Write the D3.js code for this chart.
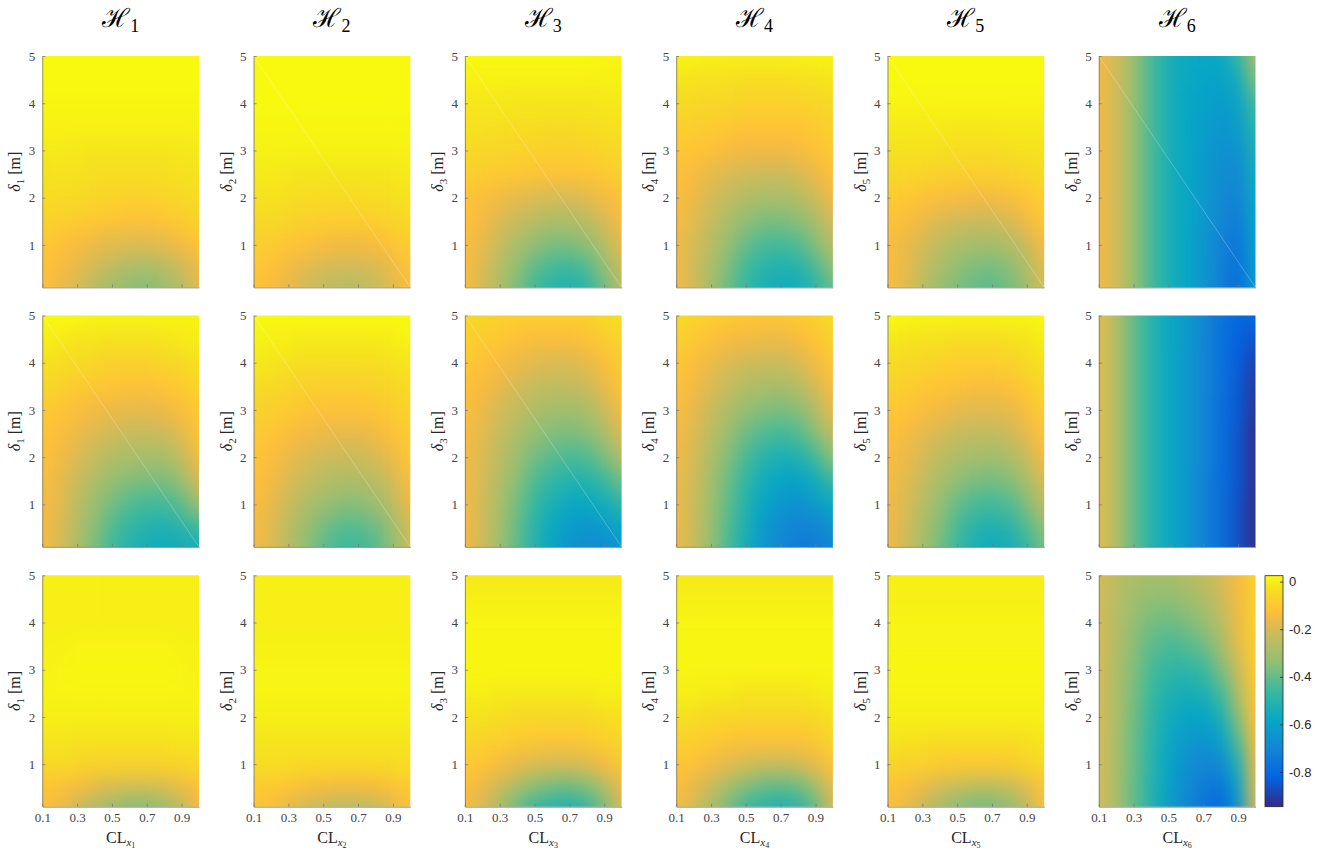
<!DOCTYPE html>
<html>
<head>
<meta charset="utf-8">
<script src="https://cdn.jsdelivr.net/npm/d3@7"></script>
<style>
  body { margin: 0; background: #fff; }
  .tick text { font-family: "Liberation Serif", serif; font-size: 13px; fill: #444; }
  .cbar .tick text { font-family: "Liberation Sans", Arial, sans-serif; font-size: 13px; fill: #262626; }
</style>
</head>
<body>
<div id="chart"></div>
<script>
// sample grid: CL across, delta down (top row = delta 5)
const clValues = [0.1, 0.2, 0.3, 0.4, 0.5, 0.6, 0.7, 0.8, 0.9, 1.0];
const deltaValues = [5, 4.5, 4, 3.5, 3, 2.5, 2, 1.5, 1, 0.5, 0.1];
const xTicks = [0.1, 0.3, 0.5, 0.7, 0.9];
const yTicks = [1, 2, 3, 4, 5];
const cbarTicks = [0, -0.2, -0.4, -0.6, -0.8];
const cRange = [-0.946, 0.025];
const hNames = ["1", "2", "3", "4", "5", "6"];

// ---- row 1 ----
const r1_H1 = [
  [0.02, 0.02, 0.02, 0.02, 0.02, 0.02, 0.02, 0.02, 0.02, 0.02],
  [0.02, 0.02, 0.02, 0.02, 0.02, 0.02, 0.02, 0.02, 0.02, 0.02],
  [0.015, 0.015, 0.015, 0.015, 0.015, 0.015, 0.015, 0.015, 0.015, 0.015],
  [0.005, 0.005, 0.005, 0.005, 0.005, 0.005, 0.005, 0.005, 0.005, 0.005],
  [-0.01, -0.01, -0.015, -0.02, -0.02, -0.02, -0.02, -0.02, -0.015, -0.01],
  [-0.025, -0.03, -0.03, -0.035, -0.04, -0.04, -0.04, -0.035, -0.03, -0.025],
  [-0.04, -0.045, -0.05, -0.06, -0.065, -0.07, -0.07, -0.065, -0.055, -0.04],
  [-0.07, -0.08, -0.09, -0.1, -0.11, -0.12, -0.12, -0.11, -0.09, -0.07],
  [-0.1, -0.12, -0.14, -0.16, -0.18, -0.19, -0.19, -0.18, -0.15, -0.11],
  [-0.12, -0.14, -0.17, -0.21, -0.25, -0.28, -0.29, -0.27, -0.22, -0.16],
  [-0.12, -0.16, -0.2, -0.26, -0.31, -0.35, -0.36, -0.33, -0.26, -0.18]
];
const r1_H2 = [
  [0.02, 0.02, 0.02, 0.02, 0.02, 0.02, 0.02, 0.02, 0.02, 0.02],
  [0.02, 0.02, 0.02, 0.02, 0.02, 0.02, 0.02, 0.02, 0.02, 0.02],
  [0.02, 0.02, 0.02, 0.02, 0.02, 0.02, 0.02, 0.02, 0.02, 0.02],
  [0.015, 0.015, 0.015, 0.015, 0.015, 0.015, 0.015, 0.015, 0.015, 0.015],
  [0.005, 0.005, 0.005, 0.005, 0.005, 0.005, 0.005, 0.005, 0.005, 0.005],
  [-0.01, -0.01, -0.015, -0.02, -0.02, -0.02, -0.02, -0.02, -0.015, -0.01],
  [-0.025, -0.03, -0.035, -0.04, -0.045, -0.045, -0.045, -0.04, -0.035, -0.025],
  [-0.05, -0.055, -0.065, -0.075, -0.08, -0.085, -0.085, -0.08, -0.065, -0.05],
  [-0.08, -0.09, -0.11, -0.12, -0.14, -0.15, -0.15, -0.14, -0.11, -0.08],
  [-0.1, -0.12, -0.15, -0.18, -0.2, -0.21, -0.21, -0.2, -0.16, -0.11],
  [-0.11, -0.14, -0.17, -0.21, -0.24, -0.26, -0.26, -0.23, -0.18, -0.13]
];
const r1_H3 = [
  [0.02, 0.02, 0.02, 0.02, 0.02, 0.02, 0.02, 0.02, 0.01, 0.01],
  [0.005, 0.005, 0.005, 0.005, 0.005, 0.005, 0.005, 0.005, 0.005, 0.005],
  [-0.015, -0.015, -0.015, -0.02, -0.02, -0.02, -0.02, -0.02, -0.015, -0.015],
  [-0.03, -0.03, -0.035, -0.04, -0.04, -0.045, -0.045, -0.04, -0.035, -0.03],
  [-0.05, -0.055, -0.06, -0.065, -0.07, -0.075, -0.075, -0.07, -0.06, -0.05],
  [-0.08, -0.085, -0.095, -0.1, -0.11, -0.115, -0.115, -0.11, -0.095, -0.075],
  [-0.11, -0.13, -0.15, -0.17, -0.19, -0.2, -0.2, -0.18, -0.15, -0.12],
  [-0.12, -0.15, -0.19, -0.23, -0.26, -0.28, -0.28, -0.26, -0.2, -0.14],
  [-0.13, -0.17, -0.23, -0.29, -0.34, -0.37, -0.37, -0.34, -0.27, -0.17],
  [-0.14, -0.19, -0.26, -0.34, -0.41, -0.45, -0.46, -0.43, -0.34, -0.22],
  [-0.14, -0.2, -0.28, -0.37, -0.45, -0.5, -0.52, -0.49, -0.39, -0.25]
];
const r1_H4 = [
  [0.01, 0.01, 0.0, 0.0, 0.0, 0.0, 0.0, 0.0, 0.01, 0.01],
  [-0.02, -0.03, -0.03, -0.03, -0.04, -0.04, -0.04, -0.03, -0.03, -0.02],
  [-0.05, -0.05, -0.06, -0.06, -0.07, -0.07, -0.07, -0.07, -0.06, -0.05],
  [-0.08, -0.08, -0.09, -0.1, -0.11, -0.11, -0.11, -0.11, -0.09, -0.07],
  [-0.1, -0.11, -0.12, -0.14, -0.15, -0.15, -0.15, -0.14, -0.12, -0.09],
  [-0.12, -0.14, -0.17, -0.19, -0.21, -0.22, -0.22, -0.2, -0.16, -0.12],
  [-0.13, -0.16, -0.2, -0.24, -0.27, -0.29, -0.29, -0.27, -0.22, -0.15],
  [-0.14, -0.18, -0.23, -0.29, -0.34, -0.37, -0.37, -0.35, -0.29, -0.2],
  [-0.15, -0.2, -0.26, -0.33, -0.4, -0.44, -0.45, -0.43, -0.36, -0.26],
  [-0.15, -0.21, -0.28, -0.37, -0.45, -0.5, -0.52, -0.51, -0.44, -0.33],
  [-0.15, -0.21, -0.3, -0.39, -0.47, -0.53, -0.55, -0.55, -0.49, -0.4]
];
const r1_H5 = [
  [0.02, 0.02, 0.02, 0.02, 0.02, 0.02, 0.02, 0.02, 0.02, 0.02],
  [0.02, 0.02, 0.02, 0.02, 0.02, 0.02, 0.02, 0.02, 0.02, 0.02],
  [0.01, 0.01, 0.01, 0.01, 0.01, 0.01, 0.01, 0.01, 0.01, 0.01],
  [-0.01, -0.01, -0.01, -0.01, -0.015, -0.015, -0.015, -0.01, -0.01, -0.01],
  [-0.025, -0.03, -0.03, -0.035, -0.04, -0.04, -0.04, -0.035, -0.03, -0.025],
  [-0.05, -0.055, -0.06, -0.07, -0.075, -0.08, -0.08, -0.07, -0.06, -0.045],
  [-0.09, -0.1, -0.12, -0.13, -0.14, -0.15, -0.15, -0.13, -0.11, -0.08],
  [-0.11, -0.13, -0.16, -0.19, -0.21, -0.22, -0.22, -0.2, -0.15, -0.1],
  [-0.13, -0.16, -0.2, -0.25, -0.28, -0.3, -0.3, -0.28, -0.22, -0.14],
  [-0.13, -0.17, -0.23, -0.29, -0.34, -0.37, -0.38, -0.35, -0.28, -0.18],
  [-0.13, -0.18, -0.25, -0.32, -0.37, -0.4, -0.41, -0.38, -0.31, -0.2]
];
const r1_H6 = [
  [-0.15, -0.21, -0.32, -0.44, -0.53, -0.57, -0.58, -0.57, -0.48, -0.28],
  [-0.15, -0.21, -0.32, -0.44, -0.53, -0.57, -0.59, -0.6, -0.55, -0.36],
  [-0.15, -0.21, -0.32, -0.44, -0.53, -0.58, -0.6, -0.62, -0.6, -0.44],
  [-0.15, -0.21, -0.32, -0.44, -0.53, -0.58, -0.61, -0.64, -0.63, -0.49],
  [-0.15, -0.21, -0.32, -0.44, -0.53, -0.58, -0.62, -0.66, -0.66, -0.52],
  [-0.15, -0.21, -0.32, -0.44, -0.53, -0.58, -0.62, -0.67, -0.69, -0.55],
  [-0.15, -0.21, -0.32, -0.44, -0.53, -0.58, -0.63, -0.69, -0.71, -0.57],
  [-0.15, -0.21, -0.32, -0.44, -0.53, -0.58, -0.63, -0.7, -0.74, -0.58],
  [-0.15, -0.21, -0.32, -0.44, -0.53, -0.58, -0.64, -0.71, -0.76, -0.6],
  [-0.15, -0.21, -0.32, -0.44, -0.53, -0.58, -0.64, -0.72, -0.78, -0.61],
  [-0.15, -0.21, -0.32, -0.44, -0.53, -0.58, -0.64, -0.72, -0.79, -0.62]
];

// ---- row 2 ----
const r2_H1 = [
  [0.02, 0.02, 0.02, 0.01, 0.01, 0.01, 0.01, 0.01, 0.01, 0.01],
  [0.0, -0.01, -0.02, -0.02, -0.03, -0.03, -0.03, -0.02, -0.01, 0.0],
  [-0.03, -0.04, -0.05, -0.06, -0.07, -0.07, -0.07, -0.06, -0.05, -0.03],
  [-0.06, -0.07, -0.09, -0.1, -0.11, -0.12, -0.12, -0.11, -0.09, -0.06],
  [-0.09, -0.11, -0.13, -0.15, -0.16, -0.17, -0.17, -0.16, -0.13, -0.09],
  [-0.11, -0.13, -0.16, -0.19, -0.21, -0.23, -0.23, -0.22, -0.18, -0.11],
  [-0.12, -0.15, -0.19, -0.23, -0.27, -0.29, -0.3, -0.29, -0.24, -0.14],
  [-0.13, -0.17, -0.22, -0.28, -0.33, -0.36, -0.37, -0.37, -0.32, -0.2],
  [-0.14, -0.18, -0.25, -0.32, -0.38, -0.43, -0.45, -0.45, -0.41, -0.3],
  [-0.14, -0.19, -0.27, -0.35, -0.43, -0.48, -0.51, -0.52, -0.5, -0.45],
  [-0.14, -0.2, -0.28, -0.37, -0.45, -0.51, -0.54, -0.56, -0.55, -0.53]
];
const r2_H2 = [
  [0.02, 0.02, 0.02, 0.02, 0.02, 0.02, 0.02, 0.02, 0.02, 0.02],
  [0.01, 0.0, 0.0, -0.01, -0.01, -0.01, -0.01, -0.01, 0.0, 0.01],
  [-0.01, -0.02, -0.03, -0.04, -0.04, -0.04, -0.04, -0.04, -0.03, -0.02],
  [-0.04, -0.05, -0.06, -0.07, -0.08, -0.08, -0.08, -0.07, -0.06, -0.04],
  [-0.07, -0.08, -0.09, -0.11, -0.12, -0.12, -0.12, -0.11, -0.09, -0.06],
  [-0.09, -0.11, -0.13, -0.15, -0.16, -0.17, -0.17, -0.15, -0.12, -0.08],
  [-0.11, -0.13, -0.16, -0.19, -0.21, -0.22, -0.22, -0.2, -0.16, -0.1],
  [-0.12, -0.15, -0.19, -0.23, -0.26, -0.28, -0.28, -0.26, -0.2, -0.13],
  [-0.13, -0.17, -0.22, -0.28, -0.32, -0.35, -0.35, -0.32, -0.25, -0.16],
  [-0.14, -0.18, -0.25, -0.32, -0.38, -0.42, -0.42, -0.39, -0.31, -0.2],
  [-0.14, -0.19, -0.26, -0.34, -0.41, -0.45, -0.46, -0.42, -0.34, -0.22]
];
const r2_H3 = [
  [-0.05, -0.06, -0.07, -0.08, -0.08, -0.08, -0.08, -0.07, -0.05, -0.03],
  [-0.08, -0.09, -0.1, -0.12, -0.13, -0.13, -0.13, -0.12, -0.09, -0.06],
  [-0.1, -0.12, -0.14, -0.16, -0.18, -0.19, -0.19, -0.17, -0.13, -0.09],
  [-0.12, -0.14, -0.17, -0.2, -0.23, -0.24, -0.24, -0.22, -0.17, -0.11],
  [-0.13, -0.16, -0.2, -0.24, -0.28, -0.3, -0.31, -0.29, -0.22, -0.14],
  [-0.14, -0.18, -0.23, -0.28, -0.33, -0.36, -0.37, -0.35, -0.29, -0.19],
  [-0.15, -0.19, -0.25, -0.32, -0.38, -0.42, -0.44, -0.43, -0.37, -0.27],
  [-0.15, -0.2, -0.27, -0.35, -0.43, -0.48, -0.51, -0.51, -0.46, -0.38],
  [-0.15, -0.21, -0.29, -0.38, -0.47, -0.53, -0.57, -0.58, -0.55, -0.49],
  [-0.15, -0.21, -0.3, -0.4, -0.5, -0.57, -0.62, -0.64, -0.63, -0.58],
  [-0.15, -0.22, -0.31, -0.41, -0.51, -0.59, -0.65, -0.68, -0.68, -0.63]
];
const r2_H4 = [
  [-0.04, -0.06, -0.08, -0.09, -0.1, -0.1, -0.1, -0.09, -0.07, -0.04],
  [-0.08, -0.1, -0.12, -0.14, -0.15, -0.16, -0.16, -0.14, -0.11, -0.07],
  [-0.1, -0.13, -0.16, -0.19, -0.21, -0.22, -0.22, -0.2, -0.15, -0.1],
  [-0.12, -0.15, -0.19, -0.23, -0.27, -0.29, -0.29, -0.27, -0.2, -0.13],
  [-0.13, -0.17, -0.22, -0.28, -0.33, -0.36, -0.37, -0.35, -0.27, -0.17],
  [-0.14, -0.19, -0.25, -0.32, -0.39, -0.43, -0.45, -0.43, -0.35, -0.24],
  [-0.15, -0.2, -0.28, -0.36, -0.44, -0.5, -0.53, -0.52, -0.45, -0.34],
  [-0.16, -0.21, -0.3, -0.39, -0.48, -0.55, -0.59, -0.6, -0.55, -0.46],
  [-0.16, -0.22, -0.31, -0.41, -0.51, -0.59, -0.64, -0.66, -0.63, -0.57],
  [-0.16, -0.22, -0.32, -0.43, -0.53, -0.62, -0.68, -0.71, -0.7, -0.66],
  [-0.16, -0.23, -0.33, -0.44, -0.55, -0.64, -0.7, -0.74, -0.74, -0.7]
];
const r2_H5 = [
  [0.02, 0.02, 0.01, 0.01, 0.01, 0.01, 0.01, 0.01, 0.01, 0.02],
  [-0.01, -0.02, -0.03, -0.03, -0.04, -0.04, -0.04, -0.03, -0.02, 0.0],
  [-0.04, -0.05, -0.06, -0.07, -0.08, -0.08, -0.08, -0.07, -0.05, -0.03],
  [-0.07, -0.08, -0.1, -0.11, -0.12, -0.13, -0.13, -0.12, -0.09, -0.05],
  [-0.1, -0.11, -0.13, -0.15, -0.17, -0.18, -0.18, -0.17, -0.13, -0.08],
  [-0.12, -0.14, -0.17, -0.2, -0.23, -0.24, -0.24, -0.22, -0.17, -0.11],
  [-0.13, -0.16, -0.2, -0.25, -0.28, -0.3, -0.31, -0.29, -0.23, -0.14],
  [-0.14, -0.18, -0.23, -0.29, -0.34, -0.37, -0.38, -0.36, -0.29, -0.19],
  [-0.15, -0.19, -0.26, -0.33, -0.4, -0.44, -0.45, -0.43, -0.36, -0.25],
  [-0.15, -0.2, -0.28, -0.36, -0.44, -0.5, -0.52, -0.5, -0.43, -0.33],
  [-0.15, -0.21, -0.29, -0.38, -0.46, -0.53, -0.56, -0.54, -0.47, -0.38]
];
const r2_H6 = [
  [-0.18, -0.27, -0.4, -0.5, -0.57, -0.62, -0.69, -0.76, -0.81, -0.8],
  [-0.18, -0.27, -0.4, -0.5, -0.57, -0.62, -0.7, -0.77, -0.82, -0.86],
  [-0.18, -0.27, -0.4, -0.5, -0.57, -0.63, -0.7, -0.77, -0.83, -0.9],
  [-0.18, -0.27, -0.4, -0.5, -0.57, -0.63, -0.7, -0.77, -0.84, -0.92],
  [-0.18, -0.27, -0.4, -0.5, -0.57, -0.63, -0.7, -0.78, -0.84, -0.93],
  [-0.18, -0.27, -0.4, -0.5, -0.57, -0.63, -0.7, -0.78, -0.85, -0.94],
  [-0.18, -0.27, -0.4, -0.5, -0.57, -0.63, -0.7, -0.78, -0.85, -0.94],
  [-0.18, -0.27, -0.4, -0.5, -0.57, -0.63, -0.71, -0.78, -0.85, -0.94],
  [-0.18, -0.27, -0.4, -0.5, -0.57, -0.63, -0.71, -0.78, -0.86, -0.94],
  [-0.18, -0.27, -0.4, -0.5, -0.57, -0.63, -0.71, -0.78, -0.86, -0.94],
  [-0.18, -0.27, -0.4, -0.5, -0.57, -0.63, -0.71, -0.78, -0.86, -0.94]
];

// ---- row 3 ----
const r3_H1 = [
  [0.0, 0.0, 0.0, 0.0, 0.0, 0.0, 0.0, 0.0, 0.0, 0.0],
  [0.0, 0.0, 0.0, 0.0, 0.0, 0.0, 0.0, 0.0, 0.0, 0.0],
  [0.0, 0.0, 0.0, 0.0, 0.0, 0.0, 0.0, 0.0, 0.0, 0.0],
  [0.005, 0.005, 0.01, 0.01, 0.01, 0.01, 0.01, 0.01, 0.005, 0.005],
  [0.005, 0.01, 0.015, 0.015, 0.015, 0.015, 0.015, 0.015, 0.01, 0.005],
  [0.01, 0.01, 0.01, 0.01, 0.01, 0.01, 0.01, 0.01, 0.01, 0.01],
  [0.0, 0.0, 0.0, 0.0, 0.0, 0.0, 0.0, 0.0, 0.0, 0.0],
  [-0.02, -0.02, -0.03, -0.03, -0.03, -0.03, -0.03, -0.03, -0.02, -0.02],
  [-0.05, -0.05, -0.06, -0.07, -0.07, -0.07, -0.07, -0.07, -0.06, -0.05],
  [-0.11, -0.12, -0.14, -0.17, -0.19, -0.2, -0.2, -0.19, -0.16, -0.12],
  [-0.12, -0.16, -0.22, -0.28, -0.33, -0.36, -0.36, -0.33, -0.25, -0.15]
];
const r3_H2 = [
  [0.0, 0.0, 0.0, 0.0, 0.0, 0.0, 0.0, 0.0, 0.0, 0.0],
  [0.0, 0.0, 0.0, 0.0, 0.0, 0.0, 0.0, 0.0, 0.0, 0.0],
  [0.0, 0.0, 0.0, 0.0, 0.0, 0.0, 0.0, 0.0, 0.0, 0.0],
  [0.005, 0.005, 0.005, 0.005, 0.005, 0.005, 0.005, 0.005, 0.005, 0.005],
  [0.01, 0.01, 0.01, 0.01, 0.01, 0.01, 0.01, 0.01, 0.01, 0.01],
  [0.01, 0.01, 0.01, 0.01, 0.01, 0.01, 0.01, 0.01, 0.01, 0.01],
  [0.0, 0.0, 0.0, 0.0, 0.0, 0.0, 0.0, 0.0, 0.0, 0.0],
  [-0.02, -0.02, -0.02, -0.02, -0.02, -0.02, -0.02, -0.02, -0.02, -0.02],
  [-0.04, -0.04, -0.04, -0.05, -0.05, -0.05, -0.05, -0.05, -0.04, -0.04],
  [-0.09, -0.1, -0.11, -0.13, -0.14, -0.15, -0.15, -0.14, -0.12, -0.09],
  [-0.11, -0.13, -0.17, -0.21, -0.24, -0.26, -0.26, -0.24, -0.18, -0.12]
];
const r3_H3 = [
  [-0.01, -0.01, -0.01, -0.01, -0.01, -0.01, -0.01, -0.01, -0.01, -0.01],
  [0.0, 0.0, 0.0, 0.0, 0.0, 0.0, 0.0, 0.0, 0.0, 0.0],
  [0.01, 0.01, 0.01, 0.01, 0.01, 0.01, 0.01, 0.01, 0.01, 0.01],
  [0.015, 0.015, 0.015, 0.015, 0.015, 0.015, 0.015, 0.015, 0.015, 0.015],
  [0.015, 0.015, 0.015, 0.015, 0.015, 0.015, 0.015, 0.015, 0.015, 0.015],
  [0.0, 0.0, -0.01, -0.01, -0.01, -0.01, -0.01, -0.01, 0.0, 0.0],
  [-0.03, -0.03, -0.04, -0.05, -0.05, -0.05, -0.05, -0.05, -0.04, -0.03],
  [-0.06, -0.07, -0.08, -0.09, -0.1, -0.11, -0.11, -0.1, -0.08, -0.06],
  [-0.1, -0.11, -0.14, -0.17, -0.19, -0.2, -0.2, -0.19, -0.15, -0.1],
  [-0.13, -0.16, -0.22, -0.29, -0.35, -0.38, -0.39, -0.36, -0.28, -0.17],
  [-0.14, -0.2, -0.29, -0.39, -0.47, -0.51, -0.52, -0.48, -0.37, -0.2]
];
const r3_H4 = [
  [-0.01, -0.01, -0.01, -0.01, -0.01, -0.01, -0.01, -0.01, -0.01, -0.01],
  [0.0, 0.0, 0.0, 0.0, 0.0, 0.0, 0.0, 0.0, 0.0, 0.0],
  [0.01, 0.01, 0.01, 0.01, 0.01, 0.01, 0.01, 0.01, 0.01, 0.01],
  [0.015, 0.015, 0.015, 0.015, 0.015, 0.015, 0.015, 0.015, 0.015, 0.015],
  [0.01, 0.01, 0.01, 0.01, 0.01, 0.01, 0.01, 0.01, 0.01, 0.01],
  [0.0, 0.0, -0.01, -0.01, -0.02, -0.02, -0.02, -0.02, -0.01, 0.0],
  [-0.03, -0.04, -0.05, -0.05, -0.06, -0.06, -0.06, -0.06, -0.05, -0.03],
  [-0.07, -0.08, -0.09, -0.11, -0.12, -0.12, -0.12, -0.12, -0.1, -0.06],
  [-0.11, -0.12, -0.15, -0.18, -0.2, -0.22, -0.22, -0.21, -0.17, -0.11],
  [-0.13, -0.17, -0.23, -0.3, -0.36, -0.4, -0.41, -0.39, -0.31, -0.18],
  [-0.14, -0.2, -0.29, -0.38, -0.46, -0.5, -0.52, -0.5, -0.4, -0.2]
];
const r3_H5 = [
  [0.0, 0.0, 0.0, 0.0, 0.0, 0.0, 0.0, 0.0, 0.0, 0.0],
  [0.0, 0.0, 0.0, 0.0, 0.0, 0.0, 0.0, 0.0, 0.0, 0.0],
  [0.01, 0.01, 0.01, 0.01, 0.01, 0.01, 0.01, 0.01, 0.01, 0.01],
  [0.01, 0.01, 0.01, 0.01, 0.01, 0.01, 0.01, 0.01, 0.01, 0.01],
  [0.015, 0.015, 0.015, 0.015, 0.015, 0.015, 0.015, 0.015, 0.015, 0.015],
  [0.01, 0.01, 0.01, 0.01, 0.01, 0.01, 0.01, 0.01, 0.01, 0.01],
  [0.0, 0.0, 0.0, 0.0, 0.0, 0.0, 0.0, 0.0, 0.0, 0.0],
  [-0.02, -0.03, -0.03, -0.04, -0.04, -0.04, -0.04, -0.04, -0.03, -0.02],
  [-0.06, -0.07, -0.08, -0.09, -0.1, -0.1, -0.1, -0.09, -0.07, -0.05],
  [-0.11, -0.13, -0.16, -0.2, -0.23, -0.25, -0.25, -0.23, -0.18, -0.11],
  [-0.12, -0.16, -0.23, -0.3, -0.35, -0.38, -0.38, -0.34, -0.25, -0.13]
];
const r3_H6 = [
  [-0.2, -0.25, -0.28, -0.29, -0.29, -0.27, -0.24, -0.2, -0.14, -0.07],
  [-0.2, -0.26, -0.31, -0.34, -0.34, -0.32, -0.28, -0.22, -0.15, -0.07],
  [-0.2, -0.27, -0.33, -0.38, -0.39, -0.37, -0.33, -0.26, -0.16, -0.07],
  [-0.2, -0.27, -0.35, -0.41, -0.44, -0.43, -0.39, -0.31, -0.18, -0.08],
  [-0.2, -0.28, -0.36, -0.44, -0.48, -0.49, -0.46, -0.37, -0.22, -0.09],
  [-0.2, -0.28, -0.37, -0.46, -0.52, -0.54, -0.53, -0.45, -0.28, -0.1],
  [-0.2, -0.28, -0.38, -0.48, -0.55, -0.59, -0.59, -0.53, -0.35, -0.12],
  [-0.2, -0.29, -0.39, -0.49, -0.57, -0.63, -0.65, -0.61, -0.43, -0.14],
  [-0.2, -0.29, -0.39, -0.5, -0.59, -0.66, -0.7, -0.69, -0.52, -0.16],
  [-0.2, -0.29, -0.4, -0.51, -0.6, -0.68, -0.74, -0.76, -0.6, -0.18],
  [-0.2, -0.29, -0.4, -0.51, -0.61, -0.69, -0.76, -0.8, -0.64, -0.2]
];

const grid = [
  [r1_H1, r1_H2, r1_H3, r1_H4, r1_H5, r1_H6],
  [r2_H1, r2_H2, r2_H3, r2_H4, r2_H5, r2_H6],
  [r3_H1, r3_H2, r3_H3, r3_H4, r3_H5, r3_H6]
];
// panels where the triangulation seam shows up as a faint diagonal
const seamPanels = [[0, 1], [0, 2], [0, 4], [0, 5], [1, 0], [1, 1], [1, 2]];

// layout
const colX = [42.3, 253.6, 464.9, 676.2, 887.5, 1098.8];
const rowY = [56, 315.5, 575.3];
const pw = 156.7, ph = 231.4;
const pad = 40;

// parula-like colormap (stop position -> colour)
const parulaPos = [0, 0.125, 0.25, 0.375, 0.5, 0.625, 0.762, 0.825, 0.857, 0.905, 0.952, 1];
const parulaCol = ["#352a87", "#0363e1", "#1485d4", "#06a7c6", "#38b99e", "#92bf73",
  "#d1bb59", "#f8ba41", "#ffc337", "#f9d32a", "#f5e41d", "#f9fb0e"];
const parula = d3.scaleLinear().domain(parulaPos).range(parulaCol).interpolate(d3.interpolateRgb);
const color = d3.scaleSequential(t => parula(t)).domain(cRange);

const svg = d3.select("#chart").append("svg")
  .attr("width", 1325).attr("height", 852)
  .style("font-family", "'Liberation Serif', serif");
const defs = svg.append("defs");

const x = d3.scaleLinear().domain([0.1, 1.0]).range([0, pw]);
const y = d3.scaleLinear().domain([0.1, 5]).range([ph, 0]);

// cell edges: halfway between samples, outer cells pushed past the frame (clipped later)
const xEdges = clValues.map((c, i) => [
  i === 0 ? x(c) - pad : (x(clValues[i - 1]) + x(c)) / 2,
  i === clValues.length - 1 ? x(c) + pad : (x(c) + x(clValues[i + 1])) / 2
]);
const yEdges = deltaValues.map((d, j) => [
  j === 0 ? y(d) - pad : (y(deltaValues[j - 1]) + y(d)) / 2,
  j === deltaValues.length - 1 ? y(d) + pad : (y(d) + y(deltaValues[j + 1])) / 2
]);

grid.forEach((row, r) => {
  row.forEach((mat, c) => {
    const g = svg.append("g").attr("transform", `translate(${colX[c]},${rowY[r]})`);
    const cid = `clip-${r}-${c}`, fid = `blur-${r}-${c}`;
    defs.append("clipPath").attr("id", cid)
      .append("rect").attr("width", pw).attr("height", ph);
    defs.append("filter").attr("id", fid)
      .attr("filterUnits", "userSpaceOnUse")
      .attr("x", -pad).attr("y", -pad).attr("width", pw + 2 * pad).attr("height", ph + 2 * pad)
      .attr("color-interpolation-filters", "sRGB")
      .append("feGaussianBlur").attr("stdDeviation", "8 10").attr("edgeMode", "duplicate");

    const cells = [];
    mat.forEach((vals, j) => vals.forEach((v, i) => cells.push({ i, j, v })));

    g.append("g").attr("clip-path", `url(#${cid})`)
      .append("g").attr("filter", `url(#${fid})`)
      .selectAll("rect").data(cells).join("rect")
      .attr("x", d => xEdges[d.i][0])
      .attr("y", d => yEdges[d.j][0])
      .attr("width", d => xEdges[d.i][1] - xEdges[d.i][0] + 0.6)
      .attr("height", d => yEdges[d.j][1] - yEdges[d.j][0] + 0.6)
      .attr("fill", d => color(d.v));

    if (seamPanels.some(p => p[0] === r && p[1] === c)) {
      g.append("line")
        .attr("x1", x(0.1)).attr("y1", y(5))
        .attr("x2", x(1.0)).attr("y2", y(0.1))
        .attr("stroke", "#fff").attr("stroke-opacity", 0.42).attr("stroke-width", 0.6);
    }

    // axes
    const yAxis = g.append("g")
      .call(d3.axisLeft(y).tickValues(yTicks).tickSizeInner(-3).tickSizeOuter(0).tickPadding(7)
        .tickFormat(d3.format("d")));
    const xAxis = g.append("g").attr("transform", `translate(0,${ph})`)
      .call(d3.axisBottom(x).tickValues(xTicks).tickSizeInner(-3).tickSizeOuter(0).tickPadding(6)
        .tickFormat(r === 2 ? d3.format(".1f") : () => ""));
    [yAxis, xAxis].forEach(a => {
      a.select(".domain").attr("stroke", "#7a7a7a").attr("stroke-width", 0.8);
      a.selectAll(".tick line").attr("stroke", "#7a7a7a").attr("stroke-width", 0.8);
    });

    // y label
    const yl = g.append("text")
      .attr("transform", `translate(-22,${ph / 2}) rotate(-90)`)
      .attr("text-anchor", "middle")
      .attr("font-size", 16).attr("fill", "#262626");
    yl.append("tspan").attr("font-style", "italic").text("δ");
    yl.append("tspan").attr("font-size", 11).attr("dy", 4).text(hNames[c]);
    yl.append("tspan").attr("dy", -4).text(" [m]");

    // x label (bottom row)
    if (r === 2) {
      const xl = g.append("text")
        .attr("x", pw / 2).attr("y", ph + 36)
        .attr("text-anchor", "middle")
        .attr("font-size", 16).attr("fill", "#262626");
      xl.append("tspan").text("CL");
      xl.append("tspan").attr("font-style", "italic").attr("font-size", 11).attr("dy", 3).text("x");
      xl.append("tspan").attr("font-size", 8).attr("dy", 2).text(hNames[c]);
    }

    // column titles
    if (r === 0) {
      const t = g.append("text")
        .attr("x", pw / 2).attr("y", -29)
        .attr("text-anchor", "middle")
        .attr("font-size", 26).attr("fill", "#000");
      t.append("tspan").attr("font-family", "'DejaVu Serif', serif").text("ℋ");
      t.append("tspan").attr("font-size", 18).attr("dy", 5).text(hNames[c]);
    }
  });
});

// colorbar
const cbX = 1265, cbW = 18, cbTop = 575.7, cbBot = 806.7;
const grad = defs.append("linearGradient").attr("id", "cbgrad")
  .attr("x1", 0).attr("y1", 1).attr("x2", 0).attr("y2", 0);
d3.range(0, 1.0001, 0.025).forEach(t => {
  grad.append("stop").attr("offset", t)
    .attr("stop-color", color(cRange[0] + t * (cRange[1] - cRange[0])));
});
svg.append("rect")
  .attr("x", cbX).attr("y", cbTop).attr("width", cbW).attr("height", cbBot - cbTop)
  .attr("fill", "url(#cbgrad)").attr("stroke", "#262626").attr("stroke-width", 0.8);
const cbScale = d3.scaleLinear().domain(cRange).range([cbBot, cbTop]);
const cb = svg.append("g").attr("class", "cbar")
  .attr("transform", `translate(${cbX + cbW},0)`)
  .call(d3.axisRight(cbScale).tickValues(cbarTicks).tickSizeInner(-3).tickSizeOuter(0).tickPadding(6)
    .tickFormat(d => d === 0 ? "0" : d3.format(".1f")(d).replace("−", "-")));
cb.select(".domain").remove();
cb.selectAll(".tick line").attr("stroke", "#262626").attr("stroke-width", 0.8);
</script>
</body>
</html>
